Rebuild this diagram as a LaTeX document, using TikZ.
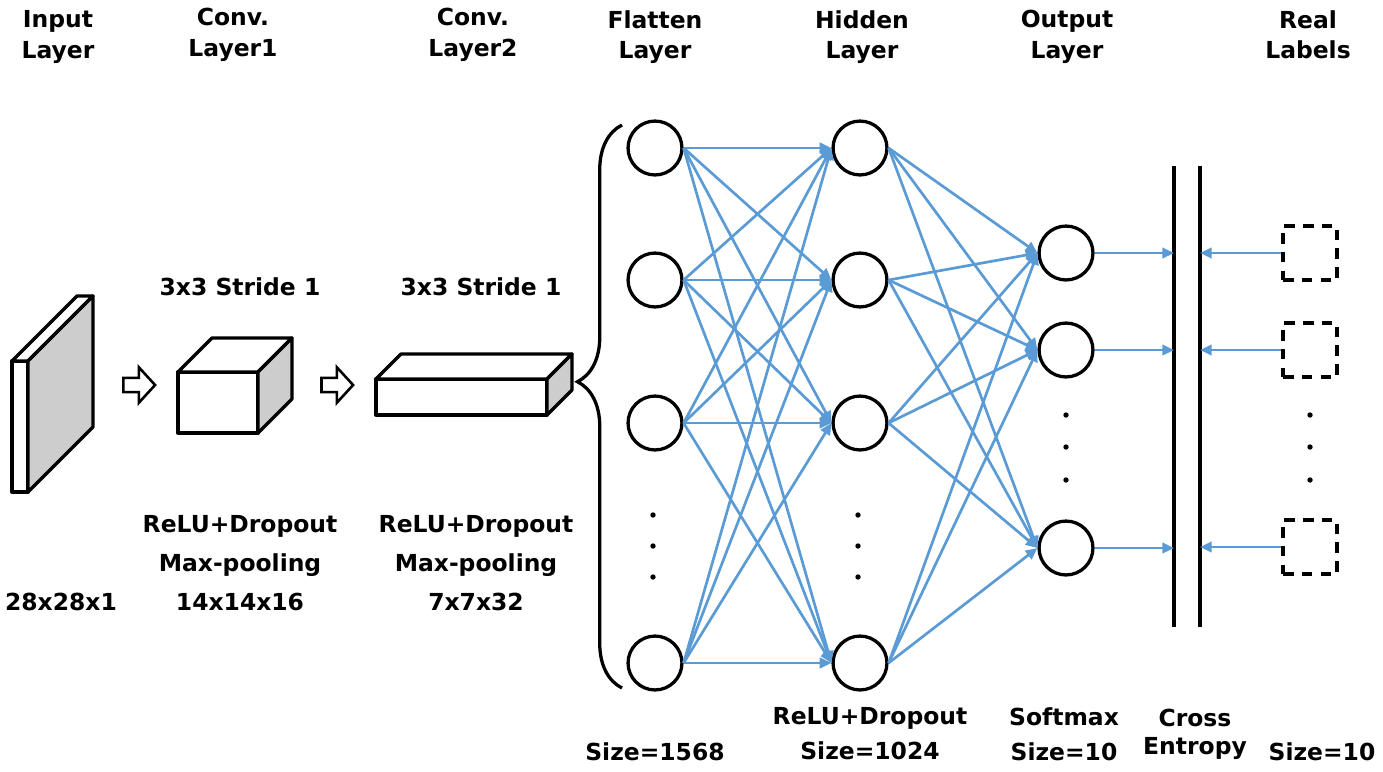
\documentclass[tikz,border=0pt]{standalone}
\usepackage{fontspec}
\setmainfont{DejaVu Sans}
\usepackage{tikz}
\usetikzlibrary{
  arrows.meta,
  positioning,
  shapes.arrows,
  decorations.pathreplacing
}
\definecolor{linkblue}{RGB}{91,155,213}
\definecolor{sidegray}{RGB}{205,205,205}
\tikzset{
  lbl/.style={align=center, inner sep=0pt,
    font=\fontsize{20}{26}\selectfont\bfseries},
  lines/.style={font=\fontsize{20}{#1}\selectfont\bfseries},
  neuron/.style={draw, circle, line width=2.8pt, fill=white,
    minimum size=46pt, inner sep=0pt},
  labelbox/.style={draw, line width=2.8pt, dash pattern=on 9pt off 7pt,
    minimum size=46pt, inner sep=0pt},
  flowarrow/.style={draw, single arrow, line width=2.2pt, fill=white,
    minimum height=27pt, inner xsep=0pt, inner ysep=5pt,
    single arrow head extend=9pt, single arrow tip angle=95},
  face/.style={draw, line width=2.8pt, line join=round},
  link/.style={-{Triangle[length=10pt,width=9pt]}, linkblue, line width=2.3pt},
  bar/.style={line width=2.8pt},
}
% front face corner (x,y), width, height, depth
\newcommand{\drawcuboid}[5]{%
  \filldraw[face, fill=white] (#1,#2) rectangle ++(#3,#4);
  \filldraw[face, fill=white] (#1,#2) -- ++(#5,-#5) -- ++(#3,0)
    -- ++(-#5,#5) -- cycle;
  \filldraw[face, fill=sidegray] (#1+#3,#2) -- ++(#5,-#5) -- ++(0,#4)
    -- ++(-#5,#5) -- cycle;
}

\begin{document}
\begin{tikzpicture}[x=0.03cm, y=-0.03cm]
  \useasboundingbox (0,0) rectangle (1383,771);

  % Headings
  \node[lbl] (hdIn) at (58,37) {Input\\Layer};
  \node[lbl] (hdCa) at (233,35) {Conv.\\Layer1};
  \node[lbl] (hdCb) at (473,35) {Conv.\\Layer2};
  \node[lbl] (hdFl) at (655,37) {Flatten\\Layer};
  \node[lbl] (hdHi) at (862,37) {Hidden\\Layer};
  \node[lbl] (hdOu) at (1067,37) {Output\\Layer};
  \node[lbl] (hdRe) at (1308,35) {Real\\Labels};

  % Input and convolution blocks
  \drawcuboid{12}{361}{16}{131}{65}
  \drawcuboid{178}{372}{80}{61}{34}
  \drawcuboid{376}{379}{171}{36}{25}
  \node[flowarrow] (stepA) at (136,385) {};
  \node[flowarrow] (stepB) at (334,385) {};

  \node[lbl] (strA) at (240,287) {3x3 Stride 1};
  \node[lbl] (strB) at (481,287) {3x3 Stride 1};
  \node[lbl, lines=33pt] (opA) at (240,563) {ReLU+Dropout\\Max-pooling\\14x14x16};
  \node[lbl, lines=33pt] (opB) at (476,563) {ReLU+Dropout\\Max-pooling\\7x7x32};
  \node[lbl] (szIn) at (61,602) {28x28x1};

  % Flatten brace
  \draw[bar, decorate, decoration={brace, amplitude=38pt, aspect=0.544}]
    (622,688) -- (622,125);

  % Neurons
  \foreach \i/\y in {1/148,2/280,3/423,4/663} {
    \node[neuron] (f\i) at (655,\y) {};
    \node[neuron] (h\i) at (860,\y) {};
  }
  \foreach \i/\y in {1/253,2/350,3/548}
    \node[neuron] (o\i) at (1066,\y) {};

  % Dots
  \foreach \y in {515,546,577} {
    \fill (653,\y) circle (2.3pt);
    \fill (858,\y) circle (2.3pt);
  }
  \foreach \y in {415,447,480} {
    \fill (1066,\y) circle (2.3pt);
    \fill (1310,\y) circle (2.3pt);
  }

  % Full connections
  \foreach \i in {1,...,4}
    \foreach \j in {1,...,4}
      \draw[link] (f\i.east) -- (h\j.west);
  \foreach \i in {1,...,4}
    \foreach \j in {1,2,3}
      \draw[link] (h\i.east) -- (o\j.west);

  % Cross entropy bars
  \coordinate (ceLtop) at (1174,166);
  \coordinate (ceLbot) at (1174,627);
  \coordinate (ceRtop) at (1200,166);
  \coordinate (ceRbot) at (1200,627);
  \draw[bar] (ceLtop) -- (ceLbot);
  \draw[bar] (ceRtop) -- (ceRbot);

  % Real labels
  \foreach \i/\y in {1/253,2/350,3/547} {
    \node[labelbox] (r\i) at (1310,\y) {};
    \draw[link] (o\i.east) -- (o\i.east -| ceLtop);
    \draw[link] (r\i.west) -- (r\i.west -| ceRtop);
  }

  % Bottom captions
  \node[lbl] (szFl) at (655,752) {Size=1568};
  \node[lbl, lines=30pt] (szHi) at (870,734) {ReLU+Dropout\\Size=1024};
  \node[lbl, lines=30pt] (szOu) at (1064,734) {Softmax\\Size=10};
  \node[lbl, lines=24pt] (ceTx) at (1195,734) {Cross\\Entropy};
  \node[lbl] (szRe) at (1322,752) {Size=10};
\end{tikzpicture}
\end{document}
